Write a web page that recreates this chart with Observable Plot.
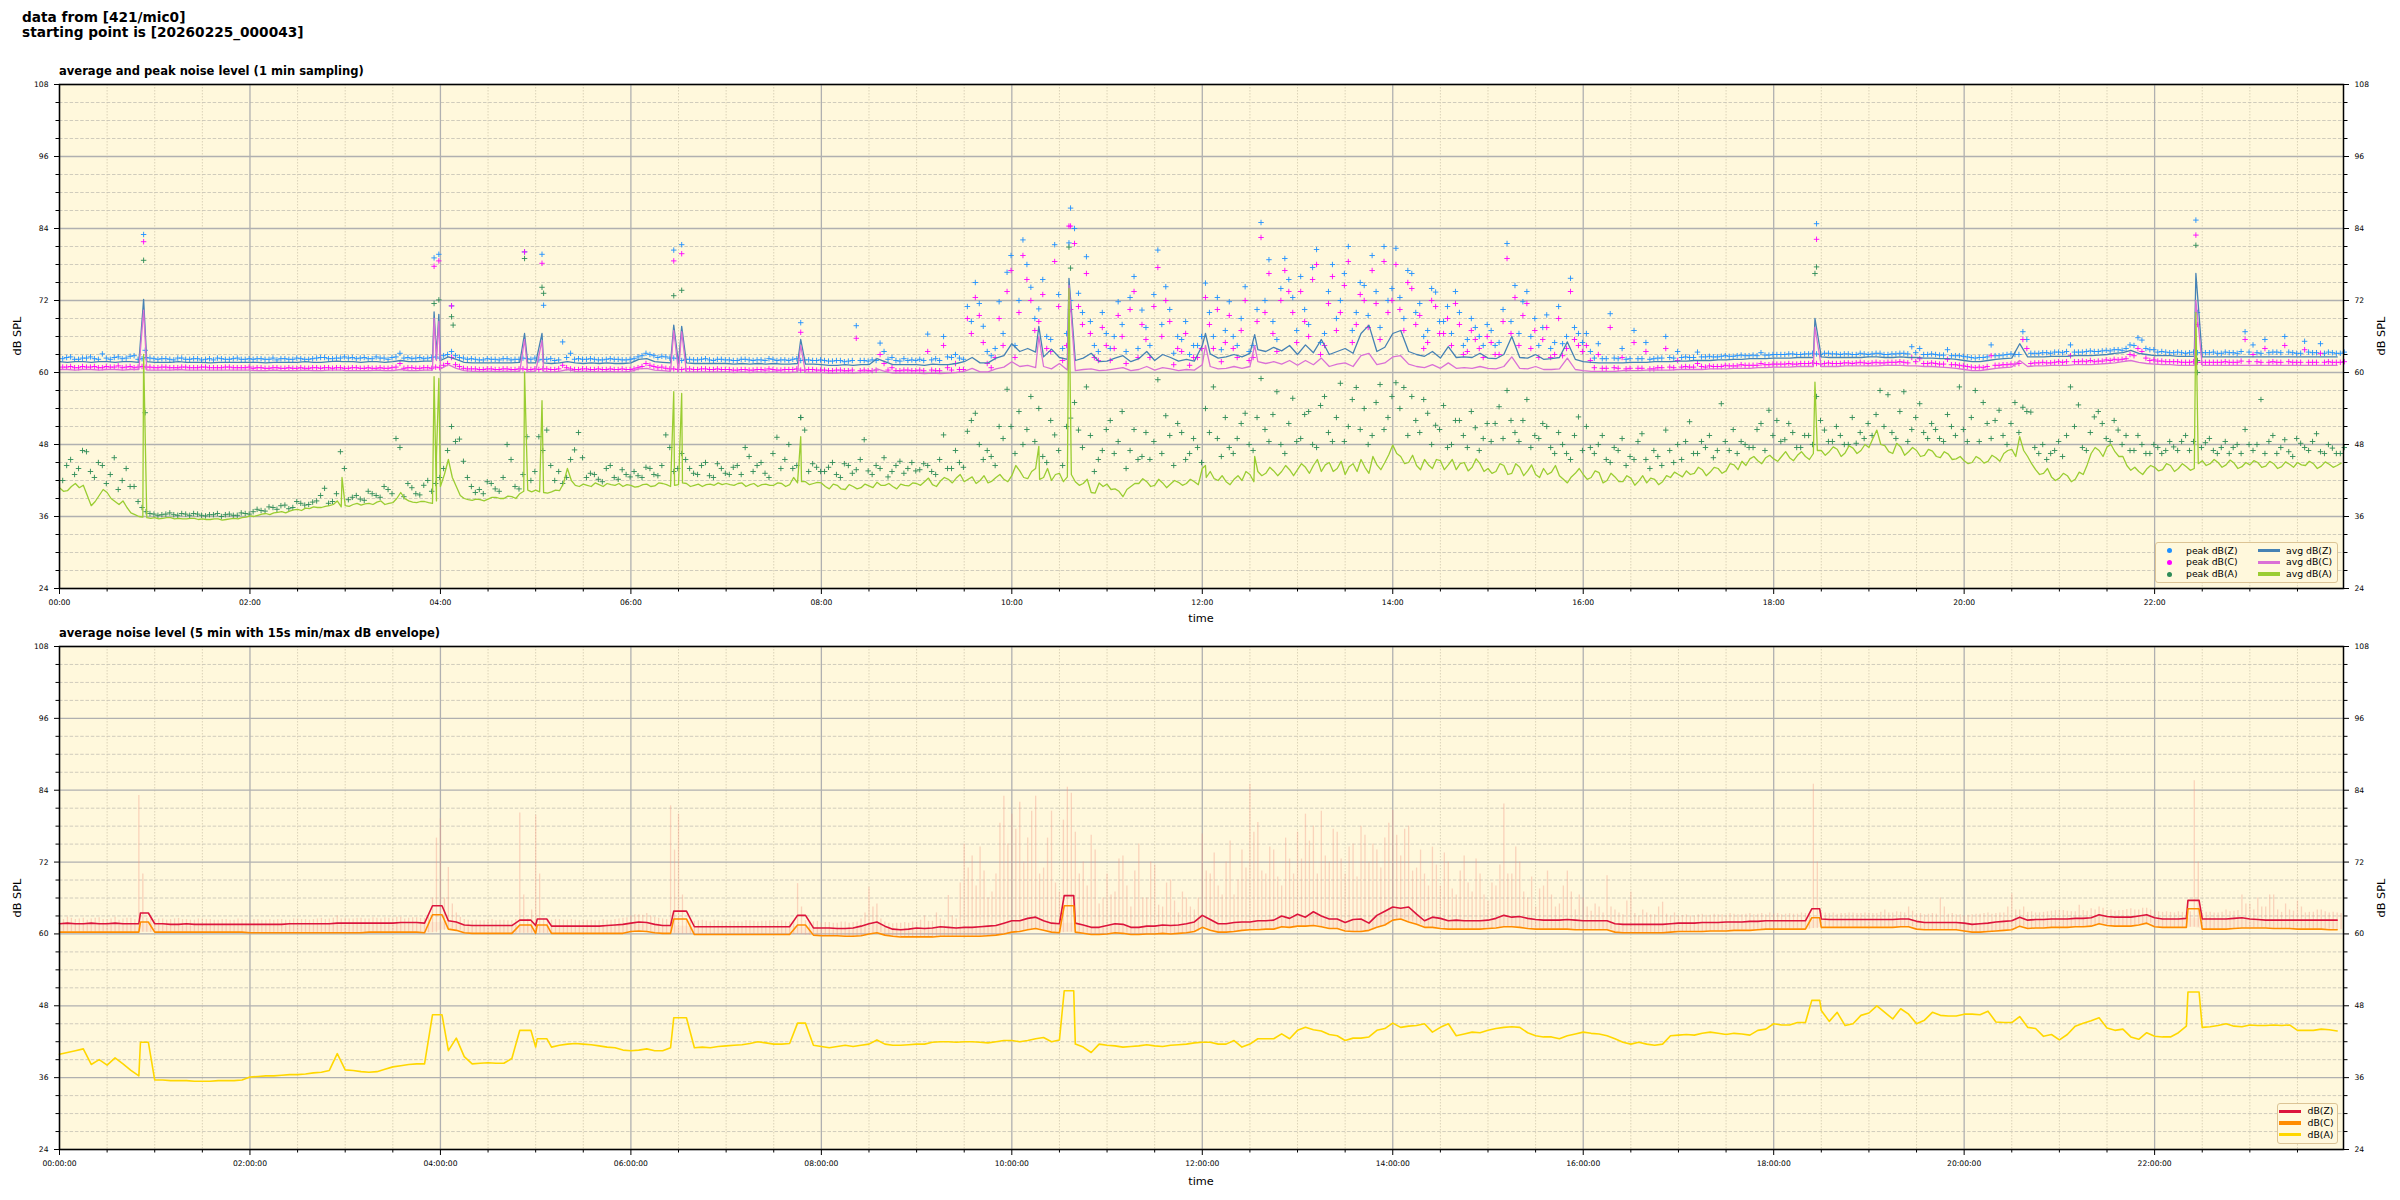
<!DOCTYPE html>
<html><head><meta charset="utf-8">
<script src="https://cdn.jsdelivr.net/npm/d3@7"></script>
<script src="https://cdn.jsdelivr.net/npm/@observablehq/plot@0.6"></script>
<style>
body{margin:0;background:#fff;}
#wrap{position:relative;width:2400px;height:1200px;font-family:"DejaVu Sans",sans-serif;color:#000;overflow:hidden;}
.abs{position:absolute;white-space:nowrap;}
.title{font-weight:bold;font-size:13.7px;line-height:15px;}
.sub{font-weight:bold;font-size:11.55px;line-height:12px;}
.lab{font-size:11.3px;line-height:12px;}
.leg{position:absolute;border:1px solid #dcc495;border-radius:3px;background:#fff8dc;box-sizing:border-box;}
.lt{position:absolute;font-size:9.3px;line-height:12px;white-space:nowrap;}
.mk{position:absolute;width:5px;height:5px;border-radius:50%;}
.ln{position:absolute;width:22px;height:3.5px;}
svg{position:absolute;left:0;}
</style></head><body><div id="wrap"></div>
<script>
// ---------- tick values ----------
const yMajor = [24,36,48,60,72,84,96,108];
const yMinor = [27,30,33,39,42,45,51,54,57,63,66,69,75,78,81,87,90,93,99,102,105];
const xMajor = [0,120,240,360,480,600,720,840,960,1080,1200,1320];
const xMinor = [30,60,90,150,180,210,270,300,330,390,420,450,510,540,570,630,660,690,750,780,810,870,900,930,990,1020,1050,1110,1140,1170,1230,1260,1290,1350,1380,1410];

// ---------- TOP: 1-min sampling, read at 5-min slots (minutes from 00:00) ----------
const avgZ = [
61.8,61.7,61.8,61.8,61.7,61.8,61.8,61.7,61.8,61.8,61.7,61.8,
61.7,61.7,61.7,61.8,61.7,61.7,61.7,61.6,61.7,61.7,61.7,61.7,
61.7,61.7,61.6,61.7,61.7,61.7,61.7,61.8,61.7,61.7,61.8,61.9,
61.8,61.8,61.7,61.8,61.8,61.7,61.8,62.0,61.8,61.8,61.9,61.9,
62.0,62.6,62.2,61.7,61.6,61.6,61.6,61.6,61.6,61.6,61.7,61.6,
61.6,61.6,61.5,61.6,61.8,61.6,61.5,61.6,61.5,61.6,61.5,61.5,
61.6,62.2,62.3,61.8,61.7,61.6,61.5,61.6,61.5,61.5,61.5,61.5,
61.5,61.4,61.5,61.4,61.5,61.4,61.5,61.4,61.4,61.5,61.4,61.4,
61.3,61.2,61.2,61.3,61.2,61.3,61.3,62.3,61.8,61.3,61.3,61.3,
61.3,61.2,61.4,61.3,61.3,61.5,61.8,62.5,61.6,61.6,62.4,62.8,
64.8,63.5,64.0,63.4,62.6,63.9,62.5,62.2,62.0,62.4,63.2,61.8,
61.9,62.4,62.8,61.8,62.3,63.5,62.0,63.0,62.5,61.9,62.2,61.9,
64.5,63.1,62.4,62.6,63.0,62.6,63.2,63.8,63.5,64.2,63.6,64.5,
63.0,64.6,63.3,65.5,63.0,63.5,64.0,63.2,66.5,67.9,63.5,64.2,
66.5,67.0,63.5,63.0,62.7,63.5,62.4,64.3,62.5,62.6,62.5,63.2,
62.4,62.3,63.0,66.0,62.5,62.4,63.0,62.2,62.3,62.5,65.1,62.2,
61.8,61.7,61.6,61.6,61.6,61.6,61.7,61.7,61.7,61.8,61.8,61.8,
61.9,61.9,62.0,62.0,62.0,62.1,62.1,62.2,62.2,62.3,62.3,62.3,
62.4,62.4,62.4,62.5,62.5,62.5,62.6,62.5,62.5,62.5,62.5,62.5,
62.6,62.6,62.5,62.5,62.6,62.5,62.5,62.4,62.4,62.3,62.3,62.2,
62.0,61.8,61.8,62.0,62.2,62.3,62.4,64.8,62.6,62.6,62.6,62.7,
62.7,62.7,62.8,62.8,62.8,62.9,63.0,63.2,63.3,63.7,63.2,63.0,
62.8,62.8,62.8,62.7,62.7,62.7,62.6,62.6,62.6,62.6,62.6,62.6,
62.6,62.6,62.6,62.6,62.6,62.6,62.6,62.6,62.6,62.6,62.6,62.6];
const avgC = [
60.5,60.5,60.4,60.5,60.5,60.4,60.5,60.5,60.4,60.5,60.5,60.4,
60.4,60.4,60.4,60.5,60.4,60.4,60.4,60.4,60.4,60.4,60.4,60.4,
60.4,60.3,60.3,60.4,60.3,60.3,60.3,60.4,60.3,60.3,60.4,60.4,
60.3,60.3,60.3,60.3,60.4,60.3,60.3,60.5,60.3,60.3,60.4,60.4,
60.6,61.3,60.7,60.3,60.2,60.2,60.2,60.2,60.2,60.2,60.2,60.2,
60.2,60.2,60.1,60.2,60.5,60.2,60.2,60.2,60.1,60.2,60.1,60.1,
60.2,60.6,60.7,60.4,60.3,60.2,60.1,60.1,60.1,60.1,60.1,60.1,
60.1,60.0,60.1,60.0,60.1,60.0,60.1,60.0,60.0,60.1,60.0,60.0,
60.0,59.9,59.9,60.0,59.9,60.0,60.0,60.6,60.2,59.9,59.9,59.9,
59.9,59.8,59.9,59.8,59.9,60.0,60.2,60.7,60.1,60.1,60.6,60.9,
61.8,61.0,61.2,60.8,61.0,60.6,61.5,60.4,60.3,60.5,60.6,60.3,
60.4,60.6,60.8,60.3,60.5,61.0,60.4,60.8,60.6,60.3,60.5,60.4,
61.3,61.0,60.6,60.7,61.0,60.7,61.0,61.8,61.5,61.8,61.4,62.0,
61.2,62.0,61.3,62.4,61.0,61.4,61.6,61.0,62.8,63.2,61.3,61.6,
62.6,62.8,61.4,61.0,60.8,61.3,60.7,61.6,60.7,60.8,60.7,61.0,
60.7,60.6,61.0,62.6,60.7,60.6,61.0,60.5,60.5,60.6,62.4,60.5,
60.3,60.2,60.2,60.2,60.2,60.3,60.3,60.3,60.4,60.4,60.4,60.4,
60.5,60.5,60.5,60.5,60.6,60.6,60.6,60.7,60.7,60.7,60.8,60.8,
60.9,60.9,60.9,61.0,61.0,61.0,61.0,61.0,61.0,61.1,61.1,61.1,
61.1,61.1,61.2,61.2,61.2,61.1,61.1,61.0,61.0,60.9,60.8,60.7,
60.5,60.3,60.3,60.5,60.7,60.8,60.9,62.0,61.0,61.1,61.1,61.2,
61.2,61.2,61.3,61.3,61.3,61.4,61.5,61.6,61.8,62.0,61.7,61.5,
61.4,61.3,61.3,61.2,61.2,61.2,61.2,61.2,61.2,61.2,61.2,61.2,
61.2,61.2,61.2,61.2,61.2,61.2,61.2,61.2,61.2,61.2,61.2,61.2];
const avgA = [
40.8,40.3,41.5,41.2,37.8,39.5,40.0,38.5,38.6,36.6,36.0,35.8,
35.8,35.7,35.8,35.7,35.6,35.7,35.6,35.5,35.6,35.5,35.7,35.8,
36.1,36.2,36.5,36.6,36.8,36.9,37.2,37.4,37.6,37.5,37.8,38.6,
37.8,38.0,37.9,38.2,38.4,38.0,38.3,40.0,38.6,38.3,38.5,38.2,
41.0,45.5,41.0,39.0,38.7,38.8,38.9,39.2,39.0,39.3,39.8,40.4,
40.4,40.0,40.1,40.3,44.0,41.2,41.4,41.0,41.3,41.5,41.2,41.0,
41.2,41.0,41.4,41.1,41.5,41.0,41.3,41.5,41.2,41.0,41.4,41.6,
41.5,41.2,41.6,41.3,41.0,41.4,41.2,41.5,41.3,41.6,41.8,41.5,
41.6,40.6,41.2,40.5,41.0,40.8,41.1,41.7,41.2,41.0,41.4,41.1,
41.5,41.8,41.3,41.9,42.2,42.4,41.8,42.6,42.0,41.6,42.5,42.2,
42.8,43.6,42.3,44.0,42.5,42.0,43.2,42.6,41.8,41.5,40.0,41.6,
41.4,40.6,39.3,41.0,41.5,41.8,41.2,41.6,41.4,41.7,41.5,41.8,
44.0,43.5,42.0,41.8,42.2,42.0,43.0,43.5,43.2,43.6,43.5,43.8,
43.8,44.2,44.5,43.5,45.0,44.0,43.0,44.8,45.5,43.2,44.6,45.0,
47.9,46.0,45.0,44.5,45.5,44.0,45.3,44.6,43.8,45.0,44.2,44.8,
44.0,43.5,44.5,43.2,44.2,43.6,43.0,44.0,43.4,42.8,41.6,43.2,
43.0,42.5,43.3,42.0,42.6,41.8,42.4,41.9,41.6,42.2,41.8,42.5,
43.0,43.6,43.2,43.8,43.4,44.0,43.6,44.6,45.2,45.6,45.3,45.8,
45.6,46.0,45.8,46.2,46.0,46.5,47.0,46.8,47.2,46.6,47.4,47.0,
47.5,50.4,47.8,46.5,47.6,46.8,47.0,46.2,46.9,45.8,46.4,45.6,
45.3,45.0,45.6,45.2,45.8,46.5,47.2,49.3,46.0,43.8,43.2,42.6,
42.4,42.8,42.2,43.0,46.5,47.0,47.6,46.8,46.0,43.7,43.5,43.9,
44.2,43.8,44.5,44.0,44.3,44.0,45.3,44.8,45.0,44.6,44.9,44.3,
44.6,45.0,44.4,44.8,44.3,44.7,45.0,44.5,44.8,44.4,44.7,44.5];
// in-between readings of avg dB(A) (at slot + 2.5 min)
const avgA2 = [
40.2,41.0,40.8,39.5,38.5,40.5,39.0,38.0,37.5,36.3,35.9,35.7,
35.6,35.8,35.6,35.6,35.7,35.5,35.5,35.6,35.4,35.6,35.6,35.9,
36.0,36.4,36.3,36.7,36.6,37.1,37.0,37.3,37.5,37.7,38.0,37.6,
37.7,38.2,38.1,38.0,38.6,38.2,39.0,39.0,38.4,38.5,38.3,38.6,
43.0,42.5,39.5,38.8,38.9,38.6,39.2,39.0,39.4,39.0,40.2,40.1,
40.1,39.9,40.4,41.5,42.0,41.0,41.2,41.6,41.0,41.3,41.5,41.3,
40.9,41.3,41.0,41.6,41.3,41.2,41.6,41.0,41.4,41.3,41.2,41.3,
41.3,41.5,41.0,41.5,41.3,41.2,41.6,41.0,42.5,41.8,41.3,41.7,
41.0,41.4,40.6,41.3,40.6,41.4,40.8,41.2,41.5,40.6,41.2,41.6,
41.2,42.4,41.0,42.5,41.6,43.0,42.2,41.5,42.8,41.9,43.0,41.8,
44.5,42.5,43.5,42.2,44.0,43.0,41.8,43.0,41.2,42.2,39.9,41.0,
40.5,40.2,40.5,41.5,42.3,41.0,42.2,40.8,42.0,41.2,42.2,41.3,
42.5,42.3,42.8,41.3,42.8,43.5,41.8,42.8,44.2,42.8,44.5,42.8,
44.8,43.2,45.5,44.6,43.5,45.2,44.3,43.5,44.2,46.0,43.8,46.3,
46.5,44.8,46.2,43.8,44.6,45.5,43.8,45.5,44.8,43.6,45.6,43.5,
43.2,44.8,43.0,44.8,42.8,44.6,42.5,43.0,44.5,42.2,42.6,44.0,
42.2,43.6,41.6,43.2,41.8,42.8,41.2,42.8,42.4,41.3,42.8,43.4,
42.6,43.0,44.2,42.8,44.2,43.2,44.8,43.8,44.5,46.0,44.8,46.2,
45.2,46.8,45.3,46.8,45.5,47.0,46.2,47.6,46.0,47.8,46.5,48.0,
49.0,48.0,46.8,48.2,46.2,47.5,46.0,47.2,46.0,46.8,45.5,46.0,
44.8,46.0,44.9,46.2,45.2,47.0,46.0,47.0,44.8,43.0,44.0,42.0,
43.2,41.8,43.4,44.6,47.5,46.0,48.0,46.0,44.5,44.2,43.0,44.5,
43.6,44.8,43.5,44.8,43.7,44.8,44.5,45.5,44.2,45.4,44.0,45.0,
45.3,44.2,45.2,44.0,45.1,44.2,44.6,45.2,44.0,45.1,44.2,44.9];
// short spikes in the 1-min averages
const spikeT = [53,178,236,237.5,239,293,304,387,392,467,617,636,722,753,1106,1346];
const spikeZ = [72.2,61.8,70.1,63.0,69.7,66.5,66.5,67.9,67.7,65.5,67.7,75.7,66.5,66.3,69.0,76.5];
const spikeC = [70.4,60.4,69.0,62.0,68.5,65.5,65.3,67.0,66.8,64.5,66.0,74.5,64.5,64.5,67.5,72.0];
const spikeA = [63.0,42.5,59.3,46.0,59.0,60.1,55.3,56.8,56.5,49.3,47.7,74.0,44.5,46.0,58.4,70.0];
// peak values (readings at slot + 2 min)
const peakZ = [
62.3,62.6,62.2,62.4,62.3,63.1,62.2,62.6,62.4,62.8,62.3,62.4,
62.2,62.3,62.1,62.4,62.2,62.3,62.2,62.1,62.3,62.2,62.4,62.2,
62.2,62.3,62.2,62.1,62.3,62.2,62.3,62.2,62.4,62.5,62.3,62.4,
62.4,62.3,62.5,62.3,62.4,62.2,62.6,62.4,62.3,62.5,62.4,62.6,
62.8,63.5,62.5,62.2,62.2,62.1,62.2,62.1,62.3,62.2,62.4,62.2,
62.1,62.2,62.0,65.1,63.2,62.3,62.2,62.2,62.1,62.3,62.2,62.1,
62.3,62.8,63.0,62.5,62.6,62.4,62.0,62.2,62.1,62.3,62.0,62.2,
62.1,62.0,62.2,62.0,62.1,62.3,62.0,62.1,62.2,62.0,62.1,62.0,
62.0,61.9,62.0,61.9,67.8,62.0,62.1,64.9,62.2,62.0,62.3,62.1,
62.2,66.4,62.3,66.0,62.5,62.4,71.0,75.0,67.7,62.8,71.8,76.7,
64.5,82.1,74.2,70.6,66.0,81.3,64.0,87.4,73.2,79.3,64.5,70.0,
64.0,71.8,63.5,76.0,70.4,64.5,80.4,74.3,63.2,65.5,63.0,64.5,
74.9,66.0,63.8,71.8,64.5,74.3,64.5,85.0,78.8,65.5,79.0,72.5,
76.0,68.0,80.5,66.5,78.0,72.0,81.0,70.0,74.5,79.5,67.5,72.0,
80.7,69.0,76.5,71.5,67.0,73.4,68.5,66.5,70.0,65.5,67.5,64.5,
67.0,65.0,81.5,74.5,71.8,66.0,64.5,69.6,65.0,64.8,75.7,66.5,
66.5,62.4,62.3,69.8,62.3,62.2,67.0,62.3,62.2,62.4,66.0,62.4,
62.5,62.5,63.4,62.6,62.6,62.7,62.7,62.8,62.8,62.9,63.3,62.9,
63.0,63.0,63.1,63.0,63.1,63.1,63.2,63.1,63.0,63.1,63.0,63.1,
63.1,63.2,63.0,63.1,63.2,64.3,64.0,63.0,63.0,62.9,62.8,62.8,
62.6,62.4,62.5,64.6,62.8,63.0,63.0,66.8,63.2,63.2,63.3,63.4,
63.3,64.6,63.4,63.5,63.5,63.6,63.6,63.8,64.0,64.5,65.4,63.8,
63.4,63.4,63.3,63.3,63.3,63.3,63.3,63.4,63.2,63.3,63.2,66.8,
64.6,63.2,63.3,63.4,66.0,63.3,63.2,63.4,63.3,63.2,63.3,63.2];
const peakC = [
60.9,61.0,60.8,60.9,61.0,60.8,60.9,61.1,60.9,60.8,61.0,60.9,
60.8,60.9,60.8,60.9,60.8,60.8,60.9,60.8,60.8,60.9,60.8,60.8,
60.7,60.8,60.7,60.8,60.7,60.7,60.8,60.7,60.8,60.8,60.7,60.8,
60.7,60.8,60.7,60.7,60.8,60.7,60.9,60.7,60.8,60.7,60.8,60.9,
61.2,62.5,61.0,60.6,60.6,60.5,60.6,60.5,60.6,60.5,60.6,60.5,
60.5,60.6,60.5,61.2,60.6,60.5,60.6,60.5,60.5,60.6,60.5,60.5,
60.6,61.0,61.2,60.8,60.7,60.6,60.5,60.6,60.5,60.6,60.5,60.5,
60.5,60.4,60.5,60.4,60.5,60.6,60.4,60.5,60.5,60.4,60.5,60.4,
60.4,60.3,60.4,60.3,65.7,60.4,60.3,63.0,60.4,60.3,60.4,60.3,
60.4,63.5,60.3,64.5,60.4,60.5,69.0,72.5,65.0,60.8,69.0,73.5,
62.5,79.5,72.0,68.5,64.0,78.5,62.0,84.4,71.0,76.5,62.5,67.5,
62.0,69.5,61.5,73.5,68.0,62.5,77.5,72.0,61.3,63.5,61.2,62.5,
72.5,64.0,61.8,69.5,62.5,72.0,62.5,82.5,76.5,63.5,77.0,70.0,
73.5,66.0,78.0,64.5,76.0,70.0,78.5,68.0,72.0,77.0,65.5,70.0,
78.0,67.0,74.0,69.5,65.0,71.0,66.5,64.5,68.0,63.5,65.5,62.5,
65.0,63.0,79.0,72.5,69.5,64.0,62.5,67.5,63.0,62.8,73.5,64.5,
64.5,60.8,60.7,67.5,60.7,60.6,65.0,60.7,60.6,60.8,64.0,60.8,
60.9,60.9,61.5,60.9,61.0,61.0,61.1,61.1,61.2,61.2,61.5,61.3,
61.4,61.4,61.4,61.5,61.5,61.5,61.5,61.5,61.5,61.6,61.6,61.6,
61.6,61.6,61.7,61.7,61.7,62.5,62.3,61.5,61.5,61.4,61.3,61.2,
61.0,60.8,60.8,62.8,61.2,61.3,61.4,65.5,61.5,61.6,61.6,61.7,
61.7,62.8,61.8,61.8,61.8,61.9,62.0,62.1,62.3,62.8,63.5,62.0,
61.9,61.8,61.8,61.7,61.7,61.7,61.7,61.7,61.7,61.7,61.7,65.5,
63.0,61.7,61.7,61.7,64.5,61.7,61.7,61.7,61.7,61.7,61.7,61.7];
const peakA = [
42.0,45.5,44.0,46.8,42.5,44.5,43.0,40.5,44.0,41.0,37.5,36.5,
36.2,36.4,36.3,36.5,36.2,36.4,36.1,36.3,36.0,36.4,36.2,36.5,
36.8,37.0,37.6,37.2,37.9,37.5,38.2,38.0,38.6,40.7,38.5,46.8,
38.8,39.5,38.7,39.8,39.2,40.5,49.0,39.3,40.8,39.6,42.0,41.5,
44.0,51.0,48.9,42.5,40.0,39.8,41.5,40.2,48.0,41.0,43.0,42.0,
49.3,50.4,42.0,41.5,45.5,50.0,42.5,43.0,41.8,44.5,42.2,43.0,
43.5,42.5,44.0,42.8,49.6,43.5,46.5,44.0,43.0,45.0,42.5,44.0,
43.0,44.5,47.5,43.5,45.0,42.5,49.2,45.5,44.0,52.5,43.5,44.2,
43.5,45.0,42.5,44.5,43.8,48.8,43.0,44.0,42.6,44.5,43.2,45.0,
43.8,44.5,43.0,49.6,44.0,45.0,50.2,53.2,45.5,46.0,51.0,57.2,
46.5,48.0,56.0,54.0,45.0,49.6,44.5,52.4,50.4,57.6,43.5,47.0,
52.0,48.5,44.0,50.5,46.0,45.5,58.8,52.8,44.5,50.0,46.5,47.5,
54.0,57.6,46.0,47.5,49.0,53.2,47.0,59.0,48.5,56.8,46.5,55.7,
49.0,53.5,47.5,56.0,48.5,58.2,51.0,57.5,54.0,49.5,58.0,52.5,
58.3,57.5,56.0,50.0,53.2,51.2,54.5,48.0,52.0,47.5,50.8,49.0,
48.5,54.3,57.0,50.0,52.0,47.5,49.0,51.0,46.5,48.0,45.5,52.6,
51.0,46.5,49.5,45.0,47.0,44.5,45.5,49.8,44.0,46.0,50.4,45.0,
45.5,51.8,46.5,47.5,45.8,54.8,47.0,46.5,48.0,47.5,51.5,53.7,
52.0,48.8,50.0,47.5,49.5,56.0,50.4,48.5,49.5,48.0,48.2,49.0,
49.5,57.0,56.3,49.0,56.8,50.5,54.8,49.0,50.5,48.5,51.0,57.6,
48.5,57.0,55.0,49.0,53.7,48.0,55.0,54.2,53.4,46.5,45.5,47.0,
46.0,57.6,54.6,47.0,52.6,51.5,48.5,50.4,49.5,47.0,48.0,46.5,
47.5,47.0,47.6,48.5,47.0,60.0,48.3,47.0,47.5,46.5,48.0,50.5,
47.0,55.5,48.5,46.5,48.8,46.0,48.2,47.0,49.8,46.5,47.4,46.5];
// second set of peak readings (at slot + 4.5 min)
const peakZ2 = [
62.5,62.2,62.4,62.6,62.2,62.4,62.5,62.3,62.7,62.2,62.5,62.3,
62.3,62.2,62.4,62.2,62.3,62.1,62.3,62.4,62.2,62.3,62.2,62.3,
62.3,62.2,62.4,62.3,62.2,62.4,62.2,62.3,62.5,62.3,62.4,62.6,
62.5,62.4,62.3,62.6,62.4,62.5,63.2,62.5,62.4,62.3,62.5,62.4,
63.0,62.8,62.4,62.3,62.1,62.3,62.2,62.3,62.1,62.2,62.3,62.4,
62.2,62.3,62.1,62.5,62.2,62.2,62.3,62.1,62.2,62.2,62.1,62.2,
62.6,63.2,62.8,62.7,62.4,62.3,62.2,62.1,62.2,62.1,62.2,62.1,
62.0,62.2,62.1,62.1,62.0,62.2,62.1,62.0,62.3,62.1,62.0,62.1,
61.9,62.0,61.8,62.0,62.0,61.9,62.0,63.5,62.5,61.9,62.0,62.0,
62.0,62.1,62.0,62.6,63.0,62.2,68.5,71.5,63.5,64.0,66.5,79.5,
72.0,78.0,69.0,75.5,65.5,73.0,66.5,84.0,70.0,68.5,63.5,66.5,
66.0,68.0,72.5,64.0,67.5,73.0,68.0,70.5,66.0,68.5,64.5,66.0,
70.0,72.5,67.0,66.0,69.0,63.5,70.5,72.0,68.5,74.0,75.5,67.0,
70.5,77.5,65.0,73.5,69.0,76.5,67.0,75.0,69.5,73.5,81.0,74.0,
72.5,77.0,70.0,66.0,74.0,68.5,71.0,73.5,64.5,69.0,66.0,68.0,
64.5,70.5,68.5,66.5,73.5,69.0,67.5,64.0,71.0,66.0,67.5,65.0,
63.5,64.8,62.3,62.4,64.0,62.3,62.3,65.0,62.3,62.4,62.5,63.5,
62.6,62.5,62.6,62.7,62.6,62.8,62.7,62.9,62.8,62.8,62.9,63.0,
63.0,63.1,63.0,63.1,63.2,63.0,63.2,63.1,63.1,63.0,63.2,63.0,
63.2,63.0,63.1,63.2,63.1,63.3,63.0,63.1,62.9,63.8,62.8,62.7,
62.5,62.5,62.6,62.8,62.9,63.1,63.0,65.5,63.2,63.3,63.2,63.4,
63.5,63.4,63.4,63.6,63.5,63.7,63.8,63.7,64.6,65.8,64.0,63.8,
63.5,63.3,63.4,63.2,63.4,63.3,63.3,63.2,63.4,63.3,63.5,63.4,
63.3,65.5,63.4,63.3,63.4,63.2,65.2,63.3,64.8,63.4,63.2,63.4];
const peakC2 = [
60.9,60.8,61.0,60.9,60.8,61.0,60.9,60.8,61.0,60.9,60.9,60.8,
60.9,60.8,60.8,60.9,60.8,60.9,60.8,60.8,60.9,60.8,60.8,60.9,
60.8,60.7,60.8,60.7,60.8,60.7,60.7,60.8,60.7,60.8,60.8,60.7,
60.8,60.7,60.8,60.7,60.7,60.8,61.5,60.8,60.7,60.8,60.7,60.8,
61.5,61.3,60.7,60.6,60.5,60.6,60.5,60.6,60.5,60.6,60.5,60.6,
60.6,60.5,60.6,60.8,60.5,60.6,60.5,60.6,60.5,60.5,60.6,60.5,
60.8,61.5,61.0,60.9,60.6,60.5,60.6,60.5,60.6,60.5,60.6,60.5,
60.4,60.5,60.4,60.5,60.4,60.5,60.4,60.5,60.6,60.4,60.5,60.4,
60.3,60.4,60.3,60.4,60.3,60.3,60.4,61.5,60.8,60.3,60.4,60.3,
60.3,60.4,60.3,60.8,61.5,60.5,66.5,69.5,61.5,62.5,64.5,77.0,
70.0,75.5,67.0,73.0,63.5,71.0,64.5,81.5,68.0,66.5,62.0,64.5,
64.0,66.0,70.5,62.5,65.5,71.0,66.0,68.5,64.0,66.5,62.5,64.0,
68.0,70.5,65.0,64.0,67.0,62.0,68.5,70.0,66.5,72.0,73.5,65.0,
68.5,75.5,63.0,71.5,67.0,74.5,65.0,73.0,67.5,71.5,78.5,72.0,
70.5,75.0,68.0,64.0,72.0,66.5,69.0,71.5,63.0,67.0,64.0,66.0,
63.0,68.5,66.5,64.5,71.5,67.0,65.5,62.5,69.0,64.0,65.5,63.5,
62.0,63.0,60.7,60.8,62.5,60.7,60.7,63.5,60.6,60.8,60.9,62.0,
61.0,60.9,61.0,61.1,61.0,61.2,61.1,61.3,61.2,61.2,61.3,61.4,
61.4,61.5,61.4,61.5,61.6,61.4,61.6,61.5,61.6,61.5,61.7,61.5,
61.7,61.6,61.7,61.8,61.6,61.8,61.5,61.6,61.4,62.2,61.3,61.1,
60.9,60.9,61.0,61.2,61.3,61.4,61.5,64.0,61.6,61.7,61.6,61.8,
61.8,61.8,61.9,62.0,61.9,62.1,62.2,62.2,63.0,64.0,62.4,62.1,
61.9,61.8,61.8,61.7,61.8,61.7,61.7,61.7,61.8,61.7,61.9,61.8,
61.8,64.0,61.8,61.7,61.8,61.7,63.8,61.7,63.2,61.8,61.7,61.8];
const peakA2 = [
44.5,43.0,47.0,43.5,45.0,41.5,45.8,42.0,41.0,38.5,36.8,36.4,
36.3,36.6,36.2,36.4,36.5,36.2,36.3,36.5,36.3,36.2,36.6,36.4,
37.2,36.9,37.5,37.8,37.3,38.5,37.9,38.4,39.5,38.2,39.8,44.0,
39.2,38.9,40.2,39.5,41.0,39.8,47.5,41.5,39.8,41.2,40.2,42.5,
47.0,48.5,45.2,41.0,40.5,41.8,40.6,42.5,45.5,40.6,49.3,43.5,
47.0,44.5,43.5,42.5,47.1,45.8,43.2,42.2,44.0,42.5,43.8,42.6,
42.8,44.2,43.0,44.5,47.5,44.0,45.5,43.2,44.5,42.8,44.8,43.2,
44.2,43.0,46.0,44.5,43.2,46.5,44.0,48.0,44.5,50.4,44.8,43.5,
44.2,43.0,44.8,43.2,45.5,43.6,44.5,45.8,43.5,45.2,44.0,43.6,
44.8,43.5,45.5,44.0,47.0,44.2,52.0,48.0,47.0,44.5,49.0,51.0,
53.5,50.5,48.5,46.0,52.0,47.0,51.0,55.0,47.5,49.5,45.5,50.5,
46.5,53.5,47.0,45.5,50.0,48.5,46.5,49.5,51.5,45.5,49.0,45.0,
50.0,49.0,52.5,46.5,51.5,48.0,52.5,50.5,53.0,48.0,51.5,48.5,
53.0,48.0,54.5,50.0,52.5,48.5,55.5,50.5,48.0,55.0,50.5,56.0,
54.0,49.5,52.0,55.5,48.0,50.5,47.5,52.0,49.5,53.5,47.0,51.5,
51.5,49.0,52.0,48.5,55.5,49.5,51.5,47.5,50.0,46.5,49.5,47.0,
47.5,48.0,45.5,47.5,49.0,46.0,48.5,45.5,47.0,44.5,47.0,48.0,
48.5,46.5,48.5,49.5,47.0,48.5,50.5,48.5,47.5,50.5,47.0,49.5,
48.5,51.5,47.5,49.5,48.0,52.0,48.5,51.0,48.0,52.5,50.0,51.5,
53.0,51.0,50.0,53.5,48.5,52.5,50.0,51.5,49.0,53.0,49.5,50.5,
52.5,48.5,51.5,52.0,49.5,51.5,50.0,53.5,47.5,48.0,46.5,48.5,
49.5,51.0,47.5,50.0,53.5,49.0,52.0,48.0,47.0,49.5,46.5,48.0,
46.5,48.5,47.0,49.5,48.5,47.5,49.0,46.5,48.5,47.5,46.5,48.0,
48.0,46.5,49.5,47.5,46.8,49.0,47.5,48.5,46.8,48.0,46.5,47.5];
// isolated high peak readings around the loud events
const outT = [53,54,236,239,247,248,293,304,305,387,392,467,636,637,1106,1107,1346,1347];
const outZ = [83.0,63.7,79.1,79.7,71.1,null,80.1,79.7,71.2,80.4,81.3,68.3,81.6,72.0,null,84.8,85.4,70.0];
const outC = [81.8,null,77.7,78.6,71.1,null,80.1,78.2,null,78.6,79.8,66.7,84.4,70.5,null,82.2,82.9,68.0];
const outA = [78.7,53.3,71.5,72.1,69.3,67.9,79.0,74.2,73.2,72.8,73.7,52.5,80.9,77.4,76.5,77.6,81.2,62.0];

// ---------- BOTTOM: 5-min averages ----------
const lvZ = [
61.7,61.8,61.7,61.7,61.8,61.7,61.7,61.8,61.7,61.7,61.7,61.7,
61.7,61.7,61.6,61.6,61.7,61.6,61.6,61.6,61.6,61.6,61.6,61.6,
61.6,61.6,61.6,61.6,61.6,61.7,61.7,61.7,61.7,61.7,61.7,61.8,
61.8,61.8,61.8,61.8,61.8,61.8,61.8,61.9,61.9,61.9,61.8,61.9,
61.9,62.2,62.0,61.5,61.4,61.4,61.4,61.4,61.4,61.4,61.4,61.4,
61.4,61.3,61.3,61.3,61.3,61.3,61.3,61.3,61.3,61.4,61.5,61.6,
61.8,62.0,61.9,61.6,61.4,61.4,61.3,61.3,61.2,61.2,61.2,61.2,
61.2,61.2,61.2,61.2,61.2,61.2,61.2,61.2,61.2,61.2,61.1,61.0,
61.0,61.0,60.9,60.9,61.0,61.3,61.7,62.0,61.3,60.8,60.7,60.8,
61.0,60.9,61.0,61.2,61.1,61.0,61.1,61.1,61.2,61.3,61.4,61.8,
62.2,62.2,62.6,62.8,62.2,61.8,61.7,61.8,61.8,61.5,61.1,61.1,
61.4,61.7,61.6,61.1,61.1,61.3,61.3,61.5,61.4,61.5,61.7,62.0,
63.1,62.4,61.7,61.7,61.9,62.0,62.0,62.2,62.2,62.3,63.0,62.6,
63.3,62.8,63.7,63.0,62.5,62.5,61.9,62.4,62.5,61.8,63.1,63.8,
64.5,64.3,64.5,63.3,62.2,62.8,62.6,62.2,62.3,62.2,62.2,62.2,
62.3,62.6,63.1,62.8,62.9,62.6,62.4,62.3,62.3,62.3,62.4,62.3,
62.2,62.2,62.2,62.2,61.7,61.6,61.6,61.6,61.6,61.6,61.6,61.7,
61.8,61.8,61.8,61.9,61.9,61.9,62.0,62.0,62.0,62.1,62.1,62.2,
62.2,62.2,62.2,62.2,62.2,62.3,62.5,62.4,62.4,62.4,62.4,62.4,
62.4,62.4,62.4,62.4,62.5,62.5,62.1,61.9,61.9,61.9,61.9,61.9,
61.8,61.6,61.7,61.8,62.0,62.1,62.2,62.8,62.3,62.4,62.4,62.5,
62.5,62.5,62.6,62.6,62.7,63.2,62.9,62.8,62.8,62.8,63.0,63.2,
62.7,62.5,62.5,62.5,62.6,62.6,62.5,62.5,62.5,62.5,62.6,62.7,
62.5,62.4,62.3,62.3,62.3,62.3,62.3,62.3,62.3,62.3,62.3,62.3];
const lvC = [
60.3,60.3,60.3,60.3,60.3,60.3,60.3,60.3,60.3,60.3,60.3,60.3,
60.3,60.3,60.3,60.3,60.3,60.3,60.3,60.3,60.3,60.3,60.3,60.3,
60.2,60.2,60.2,60.2,60.2,60.2,60.2,60.2,60.2,60.2,60.2,60.2,
60.2,60.2,60.2,60.3,60.3,60.3,60.3,60.3,60.3,60.3,60.2,60.2,
60.6,60.8,60.6,60.2,60.1,60.1,60.1,60.1,60.1,60.1,60.1,60.1,
60.1,60.1,60.1,60.1,60.1,60.1,60.1,60.1,60.1,60.1,60.1,60.1,
60.4,60.5,60.4,60.2,60.1,60.1,60.0,60.0,59.9,59.9,59.9,59.9,
59.9,59.9,59.9,59.9,59.9,59.9,59.9,59.9,59.9,59.9,59.8,59.8,
59.7,59.7,59.7,59.6,59.6,59.7,60.0,60.2,59.8,59.6,59.5,59.5,
59.5,59.5,59.5,59.6,59.6,59.6,59.6,59.6,59.6,59.7,59.8,60.0,
60.3,60.4,60.7,60.9,60.6,60.3,60.2,60.3,60.3,60.1,59.9,59.9,
60.0,60.2,60.1,59.9,59.9,60.0,60.0,60.1,60.0,60.1,60.2,60.4,
61.1,60.6,60.3,60.3,60.4,60.6,60.7,60.7,60.8,60.8,61.2,61.1,
61.3,61.3,61.4,61.2,60.9,60.9,60.5,60.4,60.4,60.6,61.1,61.5,
62.3,62.5,62.0,61.6,61.1,61.1,60.9,60.8,60.8,60.8,60.8,60.8,
60.9,61.0,61.2,61.2,61.1,60.9,60.8,60.8,60.8,60.8,60.8,60.7,
60.7,60.7,60.7,60.7,60.3,60.2,60.2,60.2,60.2,60.2,60.2,60.3,
60.4,60.4,60.4,60.4,60.5,60.5,60.5,60.6,60.6,60.6,60.7,60.8,
60.8,60.8,60.8,60.8,60.8,60.9,61.1,61.1,61.1,61.1,61.1,61.1,
61.1,61.1,61.1,61.1,61.2,61.2,60.8,60.7,60.7,60.7,60.7,60.7,
60.5,60.3,60.3,60.4,60.5,60.6,60.7,61.3,60.9,61.0,61.0,61.1,
61.1,61.1,61.2,61.2,61.3,61.7,61.4,61.3,61.3,61.3,61.5,61.8,
61.2,61.1,61.1,61.1,61.1,61.1,60.8,60.8,60.8,60.8,60.9,61.0,
61.0,61.0,61.0,60.9,60.9,60.9,60.8,60.8,60.8,60.8,60.7,60.7];
const lvA = [
39.9,40.2,40.5,40.8,38.2,39.0,38.1,39.3,38.3,37.2,36.3,35.6,
35.6,35.6,35.5,35.5,35.5,35.4,35.4,35.4,35.5,35.5,35.5,35.6,
36.1,36.2,36.3,36.3,36.4,36.5,36.5,36.6,36.8,36.9,37.2,40.0,
37.3,37.2,37.0,36.9,37.0,37.4,37.8,38.0,38.2,38.3,38.3,37.7,
46.5,40.5,42.6,39.5,38.3,38.4,38.5,38.4,38.4,39.2,39.6,41.1,
41.1,42.5,41.1,41.4,41.6,41.7,41.6,41.5,41.3,41.1,41.0,40.6,
40.5,40.6,40.8,40.5,40.5,41.0,41.1,41.0,41.0,41.1,41.0,41.2,
41.3,41.4,41.5,41.7,42.0,41.8,41.6,41.6,41.7,41.9,41.6,41.4,
41.2,41.0,41.2,41.4,41.2,41.4,41.6,42.3,41.6,41.4,41.4,41.5,
41.6,41.6,41.9,42.0,42.0,41.9,42.0,42.0,41.9,41.8,42.0,42.2,
42.2,42.0,42.2,42.5,42.7,42.0,42.3,42.0,41.6,41.1,40.2,41.6,
41.4,41.3,41.1,41.2,41.3,41.5,41.3,41.2,41.4,41.5,41.6,41.8,
41.9,41.9,41.6,41.6,42.2,41.1,41.6,42.5,42.5,42.5,43.3,42.5,
43.9,44.4,44.0,43.8,43.2,43.0,42.2,42.6,42.6,42.8,43.9,44.2,
45.1,44.4,44.6,44.7,45.0,43.6,44.4,45.0,43.0,43.3,43.6,43.5,
43.9,44.2,44.4,44.5,44.4,43.5,43.0,42.8,42.8,42.5,43.0,43.3,
43.6,43.4,43.3,43.0,42.5,41.9,41.6,41.9,41.6,41.4,41.6,43.0,
43.1,43.2,43.1,43.4,43.6,43.4,43.2,43.4,43.3,43.1,43.9,44.1,
45.0,44.8,44.8,45.2,45.2,45.8,47.2,45.4,46.9,44.7,45.0,46.4,
46.8,48.0,46.9,45.8,47.5,46.6,45.0,45.6,46.9,46.4,46.3,46.3,
46.6,46.6,46.5,47.1,45.3,45.2,45.2,46.2,44.4,44.2,42.9,43.2,
42.3,43.2,44.6,45.1,45.5,46.0,44.3,43.9,44.1,42.8,42.4,43.5,
42.9,42.8,42.8,43.5,44.6,44.4,44.4,44.5,44.7,45.0,44.6,44.5,
44.8,44.7,44.7,44.8,44.7,44.8,43.9,43.9,43.9,44.1,44.0,43.8];
// loud events seen as 5-min plateaus: start / end minute and level
const evT0 = [51,235,290,301,387,465,633,1104,1341];
const evT1 = [56,241,297,307,395,470,639,1109,1348];
const evZ = [63.5,64.7,62.3,62.5,63.8,63.1,66.4,64.2,65.6];
const evC = [62.0,63.2,61.5,61.5,62.5,61.5,64.7,62.7,64.2];
const evA = [41.9,46.5,43.9,42.5,46.0,45.1,50.5,48.9,50.3];
// 15s max envelope: highest value read at each slot and at slot + 2.5 min
const envMax = [
62.5,62.8,62.4,62.6,62.5,62.7,62.4,62.8,62.5,62.6,83.1,62.6,
62.4,62.5,62.4,62.6,62.4,62.3,62.5,62.4,62.3,62.4,62.3,62.4,
62.3,62.4,62.3,62.3,62.4,62.3,62.5,62.4,62.4,62.6,62.5,63.0,
62.6,62.5,62.6,62.5,62.6,62.7,62.6,62.8,62.6,62.7,62.6,66.0,
79.2,71.1,63.5,62.4,62.2,62.2,62.3,62.2,62.3,62.2,80.2,62.5,
79.8,62.5,62.3,62.4,62.3,62.3,62.2,62.3,62.2,62.3,62.4,62.6,
63.0,63.2,63.4,62.8,62.5,81.4,80.0,62.2,62.1,62.3,62.0,62.2,
62.0,62.1,62.0,62.2,62.0,62.1,62.3,62.2,62.0,68.4,62.2,62.0,
61.8,61.9,61.8,62.0,61.9,62.5,67.8,65.0,62.0,61.7,61.8,61.8,
62.0,63.0,62.1,62.5,66.4,62.5,75.0,73.0,74.5,66.0,70.0,83.0,
80.0,82.0,76.0,83.0,71.0,80.5,67.0,84.5,77.0,72.0,76.5,65.0,
70.0,67.0,73.0,64.5,75.0,66.0,71.5,64.5,69.0,63.5,66.0,64.0,
76.7,70.0,68.0,72.0,66.5,74.0,85.0,78.6,70.0,74.0,68.0,72.5,
77.0,80.0,78.0,80.5,72.0,77.0,70.0,75.0,78.0,72.0,74.0,76.0,
80.6,73.0,78.0,71.0,70.0,74.5,68.0,72.0,66.5,73.0,67.0,70.0,
65.5,68.0,81.7,70.0,72.0,66.0,64.5,68.0,66.5,65.0,70.5,64.0,
66.0,63.8,64.5,69.7,64.0,63.2,67.0,63.0,63.5,63.2,65.3,63.0,
63.0,63.2,63.0,63.3,63.1,63.2,63.1,63.3,63.2,63.4,63.3,63.2,
63.3,63.2,63.4,63.3,63.4,85.0,63.6,63.4,63.3,63.4,63.5,63.4,
63.5,63.4,64.0,63.5,63.6,64.5,63.3,63.2,63.4,66.0,63.3,63.2,
63.0,63.2,63.3,63.5,63.4,63.5,66.7,64.0,63.6,63.5,63.6,63.8,
64.0,63.8,63.7,63.9,64.2,64.5,63.9,63.8,63.9,64.2,64.0,64.3,
63.8,63.6,63.6,63.7,63.6,85.6,63.5,63.6,63.5,64.0,63.8,66.5,
65.0,66.0,64.5,66.5,63.6,64.0,65.5,63.5,63.6,64.0,63.5,63.5];
const envMax2 = [
62.4,62.6,62.5,62.3,62.6,62.4,62.5,62.3,62.6,62.4,70.0,62.5,
62.5,62.3,62.5,62.4,62.3,62.5,62.4,62.3,62.4,62.3,62.5,62.3,
62.4,62.3,62.4,62.4,62.3,62.5,62.4,62.3,62.5,62.4,62.6,62.5,
62.5,62.6,62.5,62.7,62.5,62.6,62.8,62.5,62.7,62.6,62.8,76.0,
66.0,65.0,62.8,62.3,62.3,62.2,62.4,62.3,62.2,62.4,66.5,64.0,
70.0,62.4,62.4,62.3,62.4,62.2,62.3,62.2,62.4,62.3,62.5,62.7,
63.2,63.1,63.0,62.6,62.4,74.0,66.5,62.3,62.2,62.1,62.3,62.1,
62.1,62.0,62.2,62.1,62.1,62.2,62.1,62.0,62.2,64.5,62.1,62.1,
61.9,61.8,62.0,61.8,62.0,63.5,64.5,62.5,61.8,61.8,61.9,62.0,
62.3,62.1,63.5,62.2,63.0,68.5,71.0,68.0,70.5,67.0,78.5,75.0,
77.5,72.0,80.5,70.0,76.0,68.5,79.0,83.5,70.0,68.0,74.0,66.0,
66.5,72.5,68.0,70.5,66.0,72.0,64.8,68.5,65.5,67.0,64.5,66.0,
70.5,73.5,66.5,75.5,69.0,71.0,77.0,70.5,74.5,69.5,76.0,70.0,
72.5,75.5,70.0,73.0,77.5,72.5,74.5,69.5,76.5,75.0,71.0,78.5,
76.5,77.5,70.5,74.0,68.0,71.5,73.5,67.5,70.5,68.5,72.5,66.5,
68.5,71.5,70.0,74.5,67.0,69.5,67.5,70.5,64.5,68.0,67.0,66.5,
64.5,65.0,63.5,64.5,63.5,65.5,63.4,64.0,63.2,64.5,63.3,63.5,
63.1,63.0,63.2,63.1,63.3,63.2,63.4,63.2,63.3,63.2,63.4,63.5,
63.4,63.3,63.3,63.5,63.4,72.0,63.5,63.5,63.4,63.5,63.4,63.5,
63.4,63.6,63.5,63.7,63.5,63.8,63.4,63.3,63.3,64.5,63.4,63.2,
63.1,63.3,63.4,63.3,63.5,64.5,64.0,64.5,63.7,63.5,63.7,63.9,
63.9,63.7,64.8,63.8,64.0,64.3,64.0,63.9,64.1,64.0,64.3,64.0,
63.7,63.7,63.5,63.6,63.7,72.0,63.6,63.5,63.6,63.7,63.9,65.0,
64.0,64.5,66.5,64.0,65.0,63.8,64.5,63.6,64.0,63.7,63.6,63.4];

// ---------- helpers ----------
const slot = (vals, off=0) => vals.map((v,i)=>({t: i*5+off, v}));
const addPts = (base, ts, vs) => base.concat(ts.map((t,i)=>({t, v: vs[i]}))).filter(d=>d.v!=null).sort((a,b)=>a.t-b.t);
function addEvents(base, vs) {
  const s = base.filter(d => !evT0.some((t0,i)=> d.t>=t0 && d.t<=evT1[i]));
  evT0.forEach((t0,i)=>{ s.push({t:t0, v:vs[i]}); s.push({t:evT1[i], v:vs[i]}); });
  return s.sort((a,b)=>a.t-b.t);
}
const p2 = n => String(n).padStart(2,"0");
const fmtHM = m => p2(Math.floor(m/60))+":"+p2(m%60);
const fmtHMS = m => fmtHM(m)+":00";

function panel(height, marginTop, marginBottom, fmt, marks) {
  return Plot.plot({
    width: 2400, height, marginLeft: 59, marginRight: 57, marginTop, marginBottom,
    x: {domain: [0, 1439]}, y: {domain: [24, 108]},
    style: {fontFamily: "DejaVu Sans", fontSize: "7.6px", background: "transparent", color: "#000", overflow: "visible"},
    marks: [
      Plot.frame({fill: "#fff8dc", stroke: null}),
      Plot.ruleX(xMinor, {stroke: "#d2c9ae", strokeWidth: 0.8, strokeDasharray: "1.5,1.5"}),
      Plot.ruleY(yMinor, {stroke: "#c4c0b4", strokeWidth: 0.8, strokeDasharray: "3.5,1.8"}),
      Plot.ruleX(xMajor, {stroke: "#b0b0b0", strokeWidth: 1.3}),
      Plot.ruleY(yMajor, {stroke: "#b0b0b0", strokeWidth: 1.3}),
      ...marks,
      Plot.frame({stroke: "#000", strokeWidth: 1.5}),
      Plot.axisX({ticks: xMajor, tickFormat: fmt, tickSize: 6, tickPadding: 5, label: null}),
      Plot.axisX({ticks: xMinor, tickFormat: () => "", tickSize: 3.5, label: null}),
      Plot.axisY({anchor: "left", ticks: yMajor, tickSize: 5, tickPadding: 6, label: null}),
      Plot.axisY({anchor: "left", ticks: yMinor, tickFormat: () => "", tickSize: 3.5, label: null}),
      Plot.axisY({anchor: "right", ticks: yMajor, tickSize: 5, tickPadding: 6, label: null}),
      Plot.axisY({anchor: "right", ticks: yMinor, tickFormat: () => "", tickSize: 3.5, label: null})
    ]
  });
}

const wrap = document.getElementById("wrap");

// ---------- top panel ----------
const dot = (v1, v2, ov, color) => Plot.dot(addPts(slot(v1, 2).concat(slot(v2, 4.5)), outT, ov),
  {x: "t", y: "v", symbol: "plus", r: 1.9, stroke: color, strokeWidth: 0.9});
const line = (data, color, w) => Plot.line(data, {x: "t", y: "v", stroke: color, strokeWidth: w});
const topPlot = panel(620, 84, 32, fmtHM, [
  dot(peakZ, peakZ2, outZ, "#1e90ff"),
  dot(peakC, peakC2, outC, "#ff00ff"),
  dot(peakA, peakA2, outA, "#2e8b57"),
  line(addPts(slot(avgZ), spikeT, spikeZ), "#4682b4", 1.3),
  line(addPts(slot(avgC), spikeT, spikeC), "#da70d6", 1.3),
  line(addPts(slot(avgA).concat(slot(avgA2, 2.5)), spikeT, spikeA), "#9acd32", 1.3)
]);
topPlot.style.top = "0px";
wrap.appendChild(topPlot);

// ---------- bottom panel ----------
const env = envMax.map((v,i)=>({t: i*5, lo: lvC[i], hi: v}))
  .concat(envMax2.map((v,i)=>({t: i*5+2.5, lo: lvC[i], hi: v})));
const band = lvZ.map((v,i)=>({t: i*5, lo: lvC[i], hi: v}));
const botPlot = panel(580, 26, 51, fmtHMS, [
  Plot.areaY(band, {x: "t", y1: "lo", y2: "hi", fill: "#f4a090", fillOpacity: 0.14}),
  Plot.ruleX(env, {x: "t", y1: "lo", y2: "hi", stroke: "#f29a86", strokeOpacity: 0.4, strokeWidth: 1.3}),
  line(addEvents(slot(lvZ), evZ), "#dc143c", 1.6),
  line(addEvents(slot(lvC), evC), "#ff8c00", 1.6),
  line(addEvents(slot(lvA), evA), "#ffd700", 1.6)
]);
botPlot.style.top = "620px";
wrap.appendChild(botPlot);

// ---------- texts ----------
function txt(cls, s, css) { const d = document.createElement("div"); d.className = "abs " + cls; d.textContent = s; Object.assign(d.style, css); wrap.appendChild(d); return d; }
txt("title", "data from [421/mic0]", {left: "22px", top: "10.3px"});
txt("title", "starting point is [20260225_000043]", {left: "22px", top: "24.8px"});
txt("sub", "average and peak noise level (1 min sampling)", {left: "59px", top: "65px"});
txt("sub", "average noise level (5 min with 15s min/max dB envelope)", {left: "59px", top: "627px"});
txt("lab", "time", {left: "1201px", top: "613px", transform: "translateX(-50%)"});
txt("lab", "time", {left: "1201px", top: "1176px", transform: "translateX(-50%)"});
[[18,336],[2382,336],[18,897.5],[2382,897.5]].forEach(([x,y]) =>
  txt("lab", "dB SPL", {left: x+"px", top: y+"px", transform: "translate(-50%,-50%) rotate(-90deg)"}));

// ---------- legends ----------
function box(l, t, w, h) { const d = document.createElement("div"); d.className = "leg"; Object.assign(d.style, {left: l+"px", top: t+"px", width: w+"px", height: h+"px"}); wrap.appendChild(d); }
function legText(s, x, y) { const d = document.createElement("div"); d.className = "lt"; d.textContent = s; Object.assign(d.style, {left: x+"px", top: (y-6)+"px"}); wrap.appendChild(d); }
function legMark(color, x, y) { const d = document.createElement("div"); d.className = "mk"; Object.assign(d.style, {left: (x-2.5)+"px", top: (y-2.5)+"px", background: color}); wrap.appendChild(d); }
function legLine(color, x, y) { const d = document.createElement("div"); d.className = "ln"; Object.assign(d.style, {left: x+"px", top: (y-1.75)+"px", background: color}); wrap.appendChild(d); }

const topLeg = [["peak dB(Z)","#1e90ff","avg dB(Z)","#4682b4"],["peak dB(C)","#ff00ff","avg dB(C)","#da70d6"],["peak dB(A)","#2e8b57","avg dB(A)","#9acd32"]];
box(2155, 542, 183, 41);
[550.7, 562.3, 574].forEach((y,i) => {
  legMark(topLeg[i][1], 2169.5, y); legText(topLeg[i][0], 2186, y);
  legLine(topLeg[i][3], 2258, y); legText(topLeg[i][2], 2286, y);
});
const botLeg = [["dB(Z)","#dc143c"],["dB(C)","#ff8c00"],["dB(A)","#ffd700"]];
box(2277, 1103, 61, 41);
[1111.3, 1123, 1134.7].forEach((y,i) => { legLine(botLeg[i][1], 2279, y); legText(botLeg[i][0], 2307.5, y); });
</script></body></html>
